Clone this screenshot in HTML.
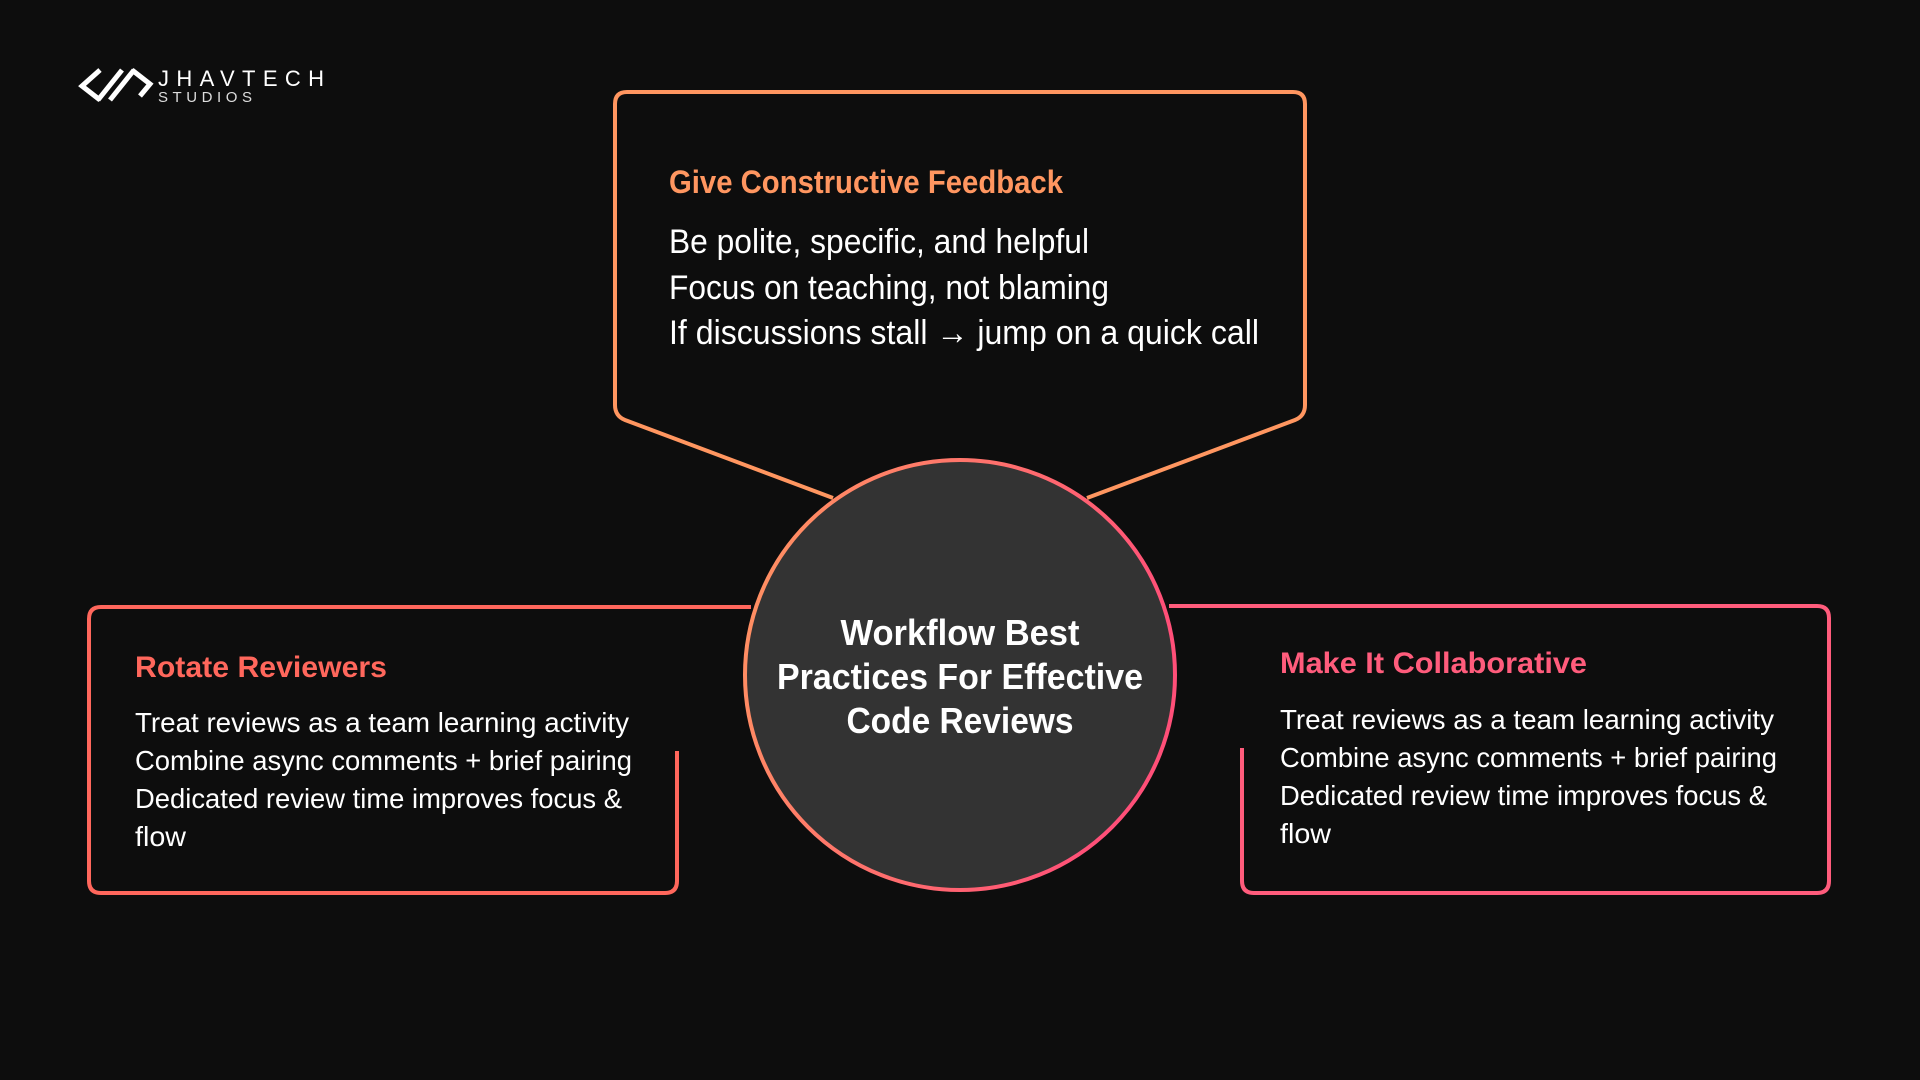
<!DOCTYPE html>
<html><head><meta charset="utf-8"><style>
html,body{margin:0;padding:0;background:#0d0d0d;}
svg{display:block}
text{font-family:"Liberation Sans Narrow","Liberation Sans",sans-serif;}
</style></head><body>
<svg width="1920" height="1080" viewBox="0 0 1920 1080" xmlns="http://www.w3.org/2000/svg">
<defs>
<linearGradient id="cg" x1="0" y1="0" x2="1" y2="0.3">
<stop offset="0" stop-color="#ff9660"/><stop offset="1" stop-color="#ff4f78"/>
</linearGradient>
</defs>
<rect width="1920" height="1080" fill="#0d0d0d"/>
<!-- logo -->
<g fill="none" stroke="#fff" stroke-width="5">
<path d="M100 70 L82 86 L100 100"/>
<path d="M98 100 L122 70"/>
<path d="M110 100 L134 70"/>
<path d="M132 70 L150 84 L140 96"/>
</g>
<text x="158" y="86" fill="#fff" font-size="22" textLength="166" lengthAdjust="spacing" style="font-family:'Liberation Sans',sans-serif">JHAVTECH</text>
<text x="158" y="102" fill="#ddd" font-size="15" textLength="94" lengthAdjust="spacing" style="font-family:'Liberation Sans',sans-serif">STUDIOS</text>
<!-- top box -->
<path d="M833 498 L625 420 Q615 416 615 405 L615 104 Q615 92 627 92 L1293 92 Q1305 92 1305 104 L1305 405 Q1305 416 1295 420 L1087 498" fill="none" stroke="#ff9660" stroke-width="4"/>
<!-- left box -->
<path d="M751 607 L101 607 Q89 607 89 619 L89 881 Q89 893 101 893 L665 893 Q677 893 677 881 L677 751" fill="none" stroke="#ff675c" stroke-width="4"/>
<!-- right box -->
<path d="M1169 606 L1817 606 Q1829 606 1829 618 L1829 881 Q1829 893 1817 893 L1254 893 Q1242 893 1242 881 L1242 748" fill="none" stroke="#ff5c7c" stroke-width="4"/>
<!-- circle -->
<circle cx="960" cy="675" r="215" fill="#333333" stroke="url(#cg)" stroke-width="4"/>
<g fill="#fff" font-weight="bold" font-size="36" text-anchor="middle">
<text x="960" y="645" textLength="239" lengthAdjust="spacingAndGlyphs">Workflow Best</text>
<text x="960" y="689" textLength="366" lengthAdjust="spacingAndGlyphs">Practices For Effective</text>
<text x="960" y="733" textLength="227" lengthAdjust="spacingAndGlyphs">Code Reviews</text>
</g>
<!-- top text -->
<text x="669" y="193" fill="#ff9660" font-weight="bold" font-size="32" textLength="394" lengthAdjust="spacingAndGlyphs">Give Constructive Feedback</text>
<g fill="#fff" font-size="34">
<text x="669" y="253" textLength="420" lengthAdjust="spacingAndGlyphs">Be polite, specific, and helpful</text>
<text x="669" y="299" textLength="440" lengthAdjust="spacingAndGlyphs">Focus on teaching, not blaming</text>
<text x="669" y="344" textLength="590" lengthAdjust="spacingAndGlyphs">If discussions stall → jump on a quick call</text>
</g>
<!-- left text -->
<text x="135" y="677" fill="#ff675c" font-weight="bold" font-size="30" textLength="252" lengthAdjust="spacingAndGlyphs">Rotate Reviewers</text>
<g fill="#fff" font-size="28">
<text x="135" y="732" textLength="494" lengthAdjust="spacingAndGlyphs">Treat reviews as a team learning activity</text>
<text x="135" y="770" textLength="497" lengthAdjust="spacingAndGlyphs">Combine async comments + brief pairing</text>
<text x="135" y="808" textLength="487" lengthAdjust="spacingAndGlyphs">Dedicated review time improves focus &amp;</text>
<text x="135" y="846" textLength="51" lengthAdjust="spacingAndGlyphs">flow</text>
</g>
<!-- right text -->
<text x="1280" y="673" fill="#ff5c7c" font-weight="bold" font-size="30" textLength="307" lengthAdjust="spacingAndGlyphs">Make It Collaborative</text>
<g fill="#fff" font-size="28">
<text x="1280" y="729" textLength="494" lengthAdjust="spacingAndGlyphs">Treat reviews as a team learning activity</text>
<text x="1280" y="767" textLength="497" lengthAdjust="spacingAndGlyphs">Combine async comments + brief pairing</text>
<text x="1280" y="805" textLength="487" lengthAdjust="spacingAndGlyphs">Dedicated review time improves focus &amp;</text>
<text x="1280" y="843" textLength="51" lengthAdjust="spacingAndGlyphs">flow</text>
</g>
</svg>
</body></html>
